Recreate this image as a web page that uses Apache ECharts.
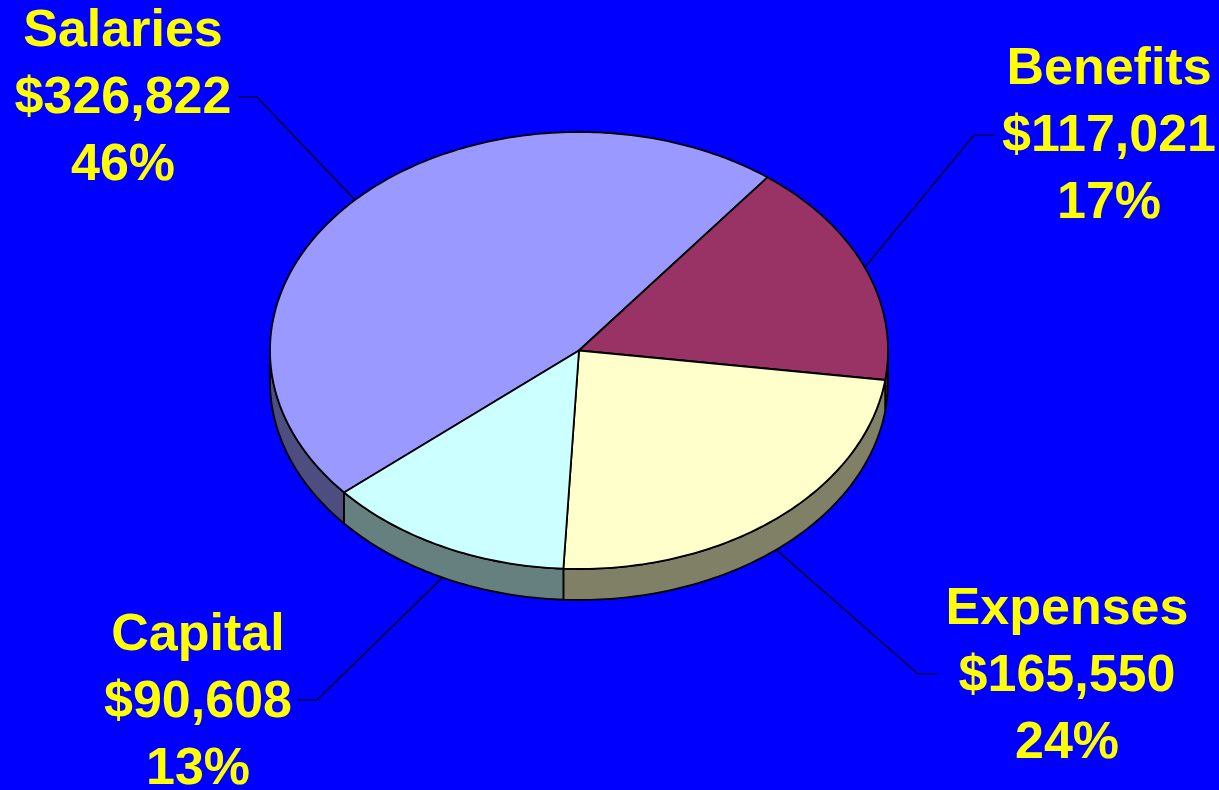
<!DOCTYPE html>
<html>
<head>
<meta charset="utf-8">
<style>
  html, body { margin: 0; padding: 0; background: #0000FF; }
  #chart { width: 1219px; height: 790px; }
</style>
<script src="https://cdn.jsdelivr.net/npm/echarts@6/dist/echarts.min.js"></script>
</head>
<body>
<div id="chart"></div>
<script>
// Budget split by category
const categories = ['Salaries', 'Benefits', 'Expenses', 'Capital'];
const amounts = [326822, 117021, 165550, 90608];
const shareLabels = ['46%', '17%', '24%', '13%'];

// Appearance
const topColors = ['#9999FF', '#993366', '#FFFFCC', '#CCFFFF'];
const pie = { cx: 579, cy: 350.5, rx: 309, ry: 218.5, depth: 31, startAngle: 229.5 };
// Label text anchors and leader-line elbows (centre x, first baseline, elbow, line end)
const labelLayout = [
  { x: 123,  y: 47,  elbow: [257, 97],  end: [238, 97] },
  { x: 1109, y: 85,  elbow: [974, 135], end: [995, 135] },
  { x: 1067, y: 625, elbow: [918, 674], end: [937, 674] },
  { x: 198,  y: 651, elbow: [317, 700], end: [298, 700] }
];
const lineGap = 67;
const fontSize = 52;
const descent = 11; // distance from baseline to bottom of the text box

function shade(hex, k) {
  const n = parseInt(hex.slice(1), 16);
  const r = Math.round(((n >> 16) & 255) * k);
  const g = Math.round(((n >> 8) & 255) * k);
  const b = Math.round((n & 255) * k);
  return 'rgb(' + r + ',' + g + ',' + b + ')';
}

// Angle measured clockwise from 12 o'clock, in degrees
function pt(deg, dy) {
  const a = deg * Math.PI / 180;
  return [pie.cx + pie.rx * Math.sin(a), pie.cy - pie.ry * Math.cos(a) + (dy || 0)];
}
function arc(a0, a1, dy) {
  const pts = [];
  const n = Math.max(2, Math.ceil(Math.abs(a1 - a0)));
  for (let i = 0; i <= n; i++) pts.push(pt(a0 + (a1 - a0) * i / n, dy));
  return pts;
}

const total = amounts.reduce((s, v) => s + v, 0);

function renderItem(params, api) {
  const idx = params.dataIndex;
  let before = 0;
  for (let i = 0; i < idx; i++) before += amounts[i];
  const value = api.value(1);
  const a0 = pie.startAngle + before / total * 360;
  const a1 = a0 + value / total * 360;
  const mid = (a0 + a1) / 2;
  const children = [];

  // Visible rim: the part of the slice facing the viewer (90°..270°, repeated per turn)
  [[90, 270], [450, 630]].forEach(function (w) {
    const s = Math.max(a0, w[0]);
    const e = Math.min(a1, w[1]);
    if (e > s) {
      const topEdge = arc(s, e, 0);
      const bottomEdge = arc(e, s, pie.depth);
      children.push({
        type: 'polygon', z2: 1,
        shape: { points: topEdge.concat(bottomEdge) },
        style: { fill: shade(topColors[idx], 0.5), stroke: '#000', lineWidth: 1.8, lineJoin: 'round' }
      });
    }
  });

  // Top face
  children.push({
    type: 'polygon', z2: 2,
    shape: { points: [[pie.cx, pie.cy]].concat(arc(a0, a1, 0)) },
    style: { fill: topColors[idx], stroke: '#000', lineWidth: 1.8, lineJoin: 'round' }
  });

  // Leader line from the rim at the slice's middle angle
  const m = ((mid % 360) + 360) % 360;
  const front = m > 90 && m < 270;
  const start = pt(mid, front ? pie.depth : 0);
  const lay = labelLayout[idx];
  children.push({
    type: 'polyline', z2: 3,
    shape: { points: [start, lay.elbow, lay.end] },
    style: { stroke: '#000', lineWidth: 1.2, fill: null }
  });

  // Three-line label
  const lines = [categories[idx], '$' + value.toLocaleString('en-US'), shareLabels[idx]];
  lines.forEach(function (txt, i) {
    children.push({
      type: 'text', z2: 4,
      x: lay.x, y: lay.y + descent + i * lineGap,
      style: {
        text: txt, fill: '#FFFF00',
        font: 'bold ' + fontSize + 'px "Liberation Sans", Arial, sans-serif',
        align: 'center', verticalAlign: 'bottom'
      }
    });
  });

  return { type: 'group', children: children };
}

const chart = echarts.init(document.getElementById('chart'), null, { renderer: 'canvas' });
chart.setOption({
  backgroundColor: '#0000FF',
  animation: false,
  series: [{
    type: 'custom',
    coordinateSystem: 'none',
    renderItem: renderItem,
    data: categories.map((c, i) => [i, amounts[i]])
  }]
});
</script>
</body>
</html>
